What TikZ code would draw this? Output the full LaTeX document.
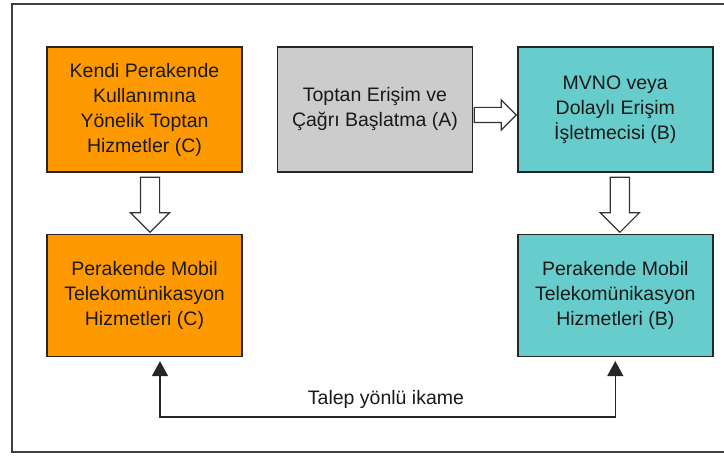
\documentclass[tikz,border=0pt]{standalone}
\usepackage{fontspec}
\setmainfont{Liberation Sans}
\usepackage{xcolor}
\usepackage{tikz}
\usetikzlibrary{shapes.arrows, arrows.meta, positioning, calc}

\definecolor{ownorange}{HTML}{FF9900}
\definecolor{wholegray}{HTML}{CCCCCC}
\definecolor{mvnoteal}{HTML}{66CCCC}

\begin{document}
\begin{tikzpicture}[
    x=1pt, y=-1pt,
    font=\fontsize{19.5}{25}\selectfont,
    box/.style={rectangle, draw=black!85, line width=1.4pt, minimum width=195pt, align=center, text=black!90, inner sep=2pt},
    hollow/.style={single arrow, draw=black!80, fill=white, line width=1.2pt, single arrow head indent=0pt},
    subst/.style={{Triangle[length=15pt, width=16pt]}-{Triangle[length=15pt, width=16pt]}, line width=1.4pt, draw=black!85, shorten <=4pt, shorten >=4pt},
  ]
    \useasboundingbox (0,0) rectangle (724,457);
    \draw[line width=1.6pt, draw=black!75] (12,4) rectangle (745,452);

    % top row
    \node[box, fill=ownorange, minimum height=125pt] (own) at (144.5,109.5)
      {Kendi Perakende\\Kullanımına\\Yönelik Toptan\\Hizmetler (C)};
    \node[box, fill=wholegray, minimum height=125pt, right=34pt of own] (wholesale)
      {Toptan Erişim ve\\Çağrı Başlatma (A)};
    \node[box, fill=mvnoteal, minimum height=125pt, right=44pt of wholesale] (mvno)
      {MVNO veya\\Dolaylı Erişim\\İşletmecisi (B)};

    % bottom row
    \node[box, fill=ownorange, minimum height=122pt, below=61pt of own] (retailC)
      {Perakende Mobil\\Telekomünikasyon\\Hizmetleri (C)};
    \node[box, fill=mvnoteal, minimum height=122pt, below=61pt of mvno] (retailB)
      {Perakende Mobil\\Telekomünikasyon\\Hizmetleri (B)};

    % hollow block arrows
    \node[hollow, inner sep=7pt, minimum height=42pt, single arrow head extend=7.5pt,
      left=0pt of mvno.west, yshift=-5.5pt, anchor=east] (toMvno) {};
    \node[hollow, inner sep=9pt, shape border rotate=270, minimum height=55pt,
      single arrow head extend=10pt, below=4pt of own.south, xshift=5.5pt] (ownDown) {};
    \node[hollow, inner sep=9pt, shape border rotate=270, minimum height=55pt,
      single arrow head extend=10pt, below=4pt of mvno.south, xshift=4.5pt] (mvnoDown) {};

    % demand side substitution
    \coordinate (loop) at (386,417);
    \node[anchor=base, text=black!90] (substlabel) at (386,405) {Talep yönlü ikame};
    \draw[subst] ([xshift=15.5pt]retailC.south) |- (loop) -| (retailB.south);
  \end{tikzpicture}
\end{document}
